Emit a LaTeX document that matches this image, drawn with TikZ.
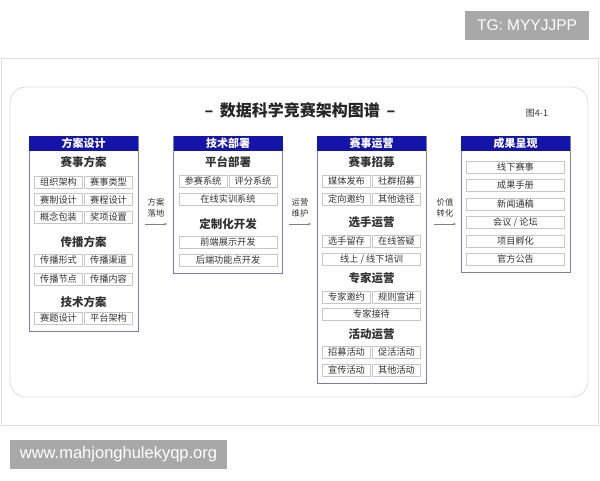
\documentclass[tikz,border=0pt]{standalone}
\usepackage{fontspec}
\setmainfont{Noto Sans CJK SC}
\newfontfamily\latinsf{Liberation Sans}
\usepackage{xcolor}
\usetikzlibrary{arrows.meta}

\definecolor{hdrblue}{HTML}{1414A8}
\definecolor{colline}{HTML}{7C7CAE}
\definecolor{itemline}{HTML}{C6C6C6}
\definecolor{txtgray}{HTML}{333333}
\definecolor{markgray}{HTML}{A8A8A8}
\definecolor{framegray}{HTML}{DCDCDC}

\tikzset{
  colbox/.style={draw=colline, line width=0.9pt, fill=white, minimum width=109, anchor=north, inner sep=0},
  hdr/.style={fill=hdrblue, text=white, font=\bfseries\fontsize{11}{11}\selectfont, minimum width=109, minimum height=15, anchor=north, inner sep=0},
  sect/.style={font=\bfseries\fontsize{11.5}{12}\selectfont, text=txtgray},
  item/.style={draw=itemline, line width=0.6pt, minimum width=48, minimum height=12, inner sep=0, font=\fontsize{9.2}{9}\selectfont, text=txtgray},
  wide/.style={item, minimum width=98},
  flow/.style={draw=gray, line width=0.5pt, -{Stealth[length=3pt,width=2.5pt]}},
  flowlbl/.style={font=\fontsize{8.3}{11}\selectfont, align=center, text=txtgray},
  wmark/.style={fill=markgray, text=white, inner sep=0, font=\latinsf\fontsize{15.5}{15}\selectfont},
}

\begin{document}
\begin{tikzpicture}[x=1pt,y=-1pt]
    \useasboundingbox (0,0) rectangle (600,480);
    % frames
    \draw[framegray, line width=1pt] (1,58) rectangle (598,425);
    \draw[framegray, line width=0.8pt, rounded corners=16] (10,87) rectangle (588,397);
    \node[font=\bfseries\fontsize{16}{16}\selectfont, text=black!85] (title) at (300,110) {–\hspace{3pt} 数据科学竞赛架构图谱 \hspace{3pt}–};
    \node[font=\fontsize{9}{9}\selectfont, text=txtgray] (fig) at (537,113) {图4-1};
    % watermarks
    \node[wmark, minimum width=124, minimum height=29] (tg) at (527,25.5) {TG: MYYJJPP};
    \node[wmark, minimum width=217, minimum height=29, font=\latinsf\fontsize{16.5}{16}\selectfont] (www) at (118.5,454.5) {www.mahjonghulekyqp.org};

    % column 1
    \node[colbox, minimum height=195] (c1) at (83.5,136) {};
    \node[hdr] (h1) at (c1.north) {方案设计};
    \node[sect] (s11) at (83.5,162) {赛事方案};
    \node[item] (i111) at (58.5,182) {组织架构};
    \node[item] (i112) at (108.5,182) {赛事类型};
    \node[item] (i113) at (58.5,199.5) {赛制设计};
    \node[item] (i114) at (108.5,199.5) {赛程设计};
    \node[item] (i115) at (58.5,217) {概念包装};
    \node[item] (i116) at (108.5,217) {奖项设置};
    \node[sect] (s12) at (83.5,242) {传播方案};
    \node[item] (i121) at (58.5,260) {传播形式};
    \node[item] (i122) at (108.5,260) {传播渠道};
    \node[item] (i123) at (58.5,279) {传播节点};
    \node[item] (i124) at (108.5,279) {传播内容};
    \node[sect] (s13) at (83.5,302) {技术方案};
    \node[item] (i131) at (58.5,318) {赛题设计};
    \node[item] (i132) at (108.5,318) {平台架构};

    % column 2
    \node[colbox, minimum height=137] (c2) at (228,136) {};
    \node[hdr] (h2) at (c2.north) {技术部署};
    \node[sect] (s21) at (228,162) {平台部署};
    \node[item] (i211) at (203,181) {参赛系统};
    \node[item] (i212) at (253,181) {评分系统};
    \node[wide] (i213) at (228,199) {在线实训系统};
    \node[sect] (s22) at (228,224) {定制化开发};
    \node[wide] (i221) at (228,242) {前端展示开发};
    \node[wide] (i222) at (228,260) {后端功能点开发};

    % column 3
    \node[colbox, minimum height=247] (c3) at (371.5,136) {};
    \node[hdr] (h3) at (c3.north) {赛事运营};
    \node[sect] (s31) at (371.5,162) {赛事招募};
    \node[item] (i311) at (346.5,181) {媒体发布};
    \node[item] (i312) at (396.5,181) {社群招募};
    \node[item] (i313) at (346.5,199) {定向邀约};
    \node[item] (i314) at (396.5,199) {其他途径};
    \node[sect] (s32) at (371.5,222) {选手运营};
    \node[item] (i321) at (346.5,241) {选手留存};
    \node[item] (i322) at (396.5,241) {在线答疑};
    \node[wide] (i323) at (371.5,259) {线上 / 线下培训};
    \node[sect] (s33) at (371.5,278) {专家运营};
    \node[item] (i331) at (346.5,297) {专家邀约};
    \node[item] (i332) at (396.5,297) {规则宣讲};
    \node[wide] (i333) at (371.5,314) {专家接待};
    \node[sect] (s34) at (371.5,334) {活动运营};
    \node[item] (i341) at (346.5,352) {招募活动};
    \node[item] (i342) at (396.5,352) {促活活动};
    \node[item] (i343) at (346.5,370) {宣传活动};
    \node[item] (i344) at (396.5,370) {其他活动};

    % column 4
    \node[colbox, minimum height=136] (c4) at (515.5,136) {};
    \node[hdr] (h4) at (c4.north) {成果呈现};
    \node[wide] (i41) at (515.5,167) {线下赛事};
    \node[wide] (i42) at (515.5,185.5) {成果手册};
    \node[wide] (i43) at (515.5,204) {新闻通稿};
    \node[wide] (i44) at (515.5,222.5) {会议 / 论坛};
    \node[wide] (i45) at (515.5,241) {项目孵化};
    \node[wide] (i46) at (515.5,259.5) {官方公告};

    % flows
    \coordinate (f1a) at (145,224);
    \coordinate (f1b) at (167,224);
    \coordinate (f2a) at (289,224);
    \coordinate (f2b) at (311,224);
    \coordinate (f3a) at (434,224);
    \coordinate (f3b) at (456,224);
    \draw[flow] (f1a) -- (f1b);
    \draw[flow] (f2a) -- (f2b);
    \draw[flow] (f3a) -- (f3b);
    \node[flowlbl] (l1) at (156,208) {方案\\落地};
    \node[flowlbl] (l2) at (300,208) {运营\\维护};
    \node[flowlbl] (l3) at (445,208) {价值\\转化};
\end{tikzpicture}
\end{document}
